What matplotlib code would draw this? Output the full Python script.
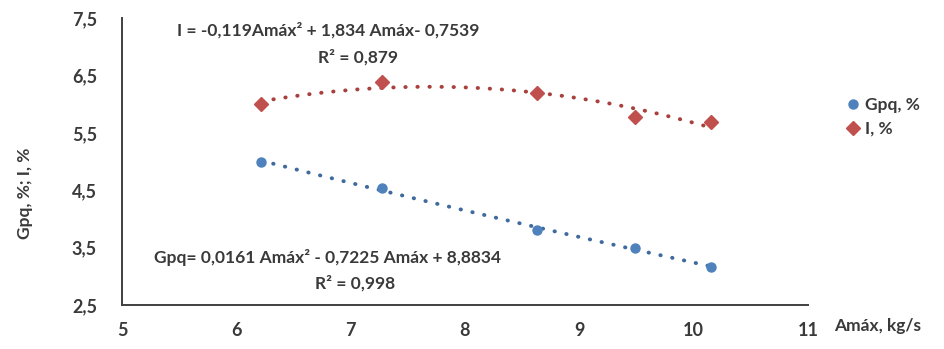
import numpy as np
import matplotlib
matplotlib.use('Agg')
import matplotlib.pyplot as plt

plt.rcParams['font.family'] = ['Lato', 'DejaVu Sans']
plt.rcParams['font.weight'] = 'bold'

# data
amax = [6.22, 7.27, 8.63, 9.49, 10.15]
gpq = [5.0, 4.53, 3.81, 3.49, 3.17]
ind = [6.0, 6.38, 6.2, 5.78, 5.68]

xticks = [5, 6, 7, 8, 9, 10, 11]
yticks = [2.5, 3.5, 4.5, 5.5, 6.5, 7.5]

blue = '#4f81bd'
red = '#c0504d'
txt = '#3a3a3a'

fig = plt.figure(figsize=(9.44, 3.49), dpi=100)
ax = fig.add_axes([122 / 944, 1 - 305 / 349, (808 - 122) / 944, (305 - 18) / 349])

# trend lines (2nd order polynomial, like Excel)
xs = np.linspace(min(amax), max(amax), 200)
pg = np.polyfit(amax, gpq, 2)
pi = np.polyfit(amax, ind, 2)
ax.plot(xs, np.polyval(pg, xs), color='#3f6a9e', lw=2.8, linestyle=(0, (0.1, 3.0)),
        dash_capstyle='round', zorder=2)
ax.plot(xs, np.polyval(pi, xs), color='#a8403d', lw=2.8, linestyle=(0, (0.1, 3.0)),
        dash_capstyle='round', zorder=2)

ax.plot(amax, gpq, 'o', color=blue, ms=6.5, label='Gpq, %', zorder=3)
ax.plot(amax, ind, 'D', color=red, ms=7.5, label='I, %', zorder=3)

ax.set_xlim(5, 11)
ax.set_ylim(2.5, 7.5)
ax.set_xticks(xticks)
ax.set_yticks(yticks)
ax.set_xticklabels([str(t) for t in xticks])
ax.set_yticklabels([('%.1f' % t).replace('.', ',') for t in yticks])
ax.tick_params(length=0, labelsize=13, colors=txt, pad=12)
ax.tick_params(axis='y', pad=18)
for s in ['top', 'right']:
    ax.spines[s].set_visible(False)
for s in ['left', 'bottom']:
    ax.spines[s].set_color('#404040')
    ax.spines[s].set_linewidth(1.4)

# trend equations
fs = 12.5
ax.text(328 / 944, 1 - 30 / 349, 'I = -0,119Amáx² + 1,834 Amáx- 0,7539',
        transform=fig.transFigure, ha='center', va='center', fontsize=fs, color=txt)
ax.text(358 / 944, 1 - 57 / 349, 'R² = 0,879',
        transform=fig.transFigure, ha='center', va='center', fontsize=fs, color=txt)
ax.text(328 / 944, 1 - 258 / 349, 'Gpq= 0,0161 Amáx² - 0,7225 Amáx + 8,8834',
        transform=fig.transFigure, ha='center', va='center', fontsize=fs, color=txt)
ax.text(355 / 944, 1 - 283 / 349, 'R² = 0,998',
        transform=fig.transFigure, ha='center', va='center', fontsize=fs, color=txt)

fig.text(25 / 944, 1 - 193 / 349, 'Gpq, %; I, %', rotation=90, ha='center', va='center',
         fontsize=fs, color=txt)
fig.text(834 / 944, 1 - 326 / 349, 'Amáx, kg/s', ha='left', va='center',
         fontsize=fs, color=txt)

fig.legend(loc='center left', bbox_to_anchor=(832 / 944, 1 - 117 / 349), frameon=False,
           fontsize=fs, handlelength=0.6, handletextpad=0.4, labelspacing=0.45,
           labelcolor=txt)

fig.savefig('out.png', dpi=100)
